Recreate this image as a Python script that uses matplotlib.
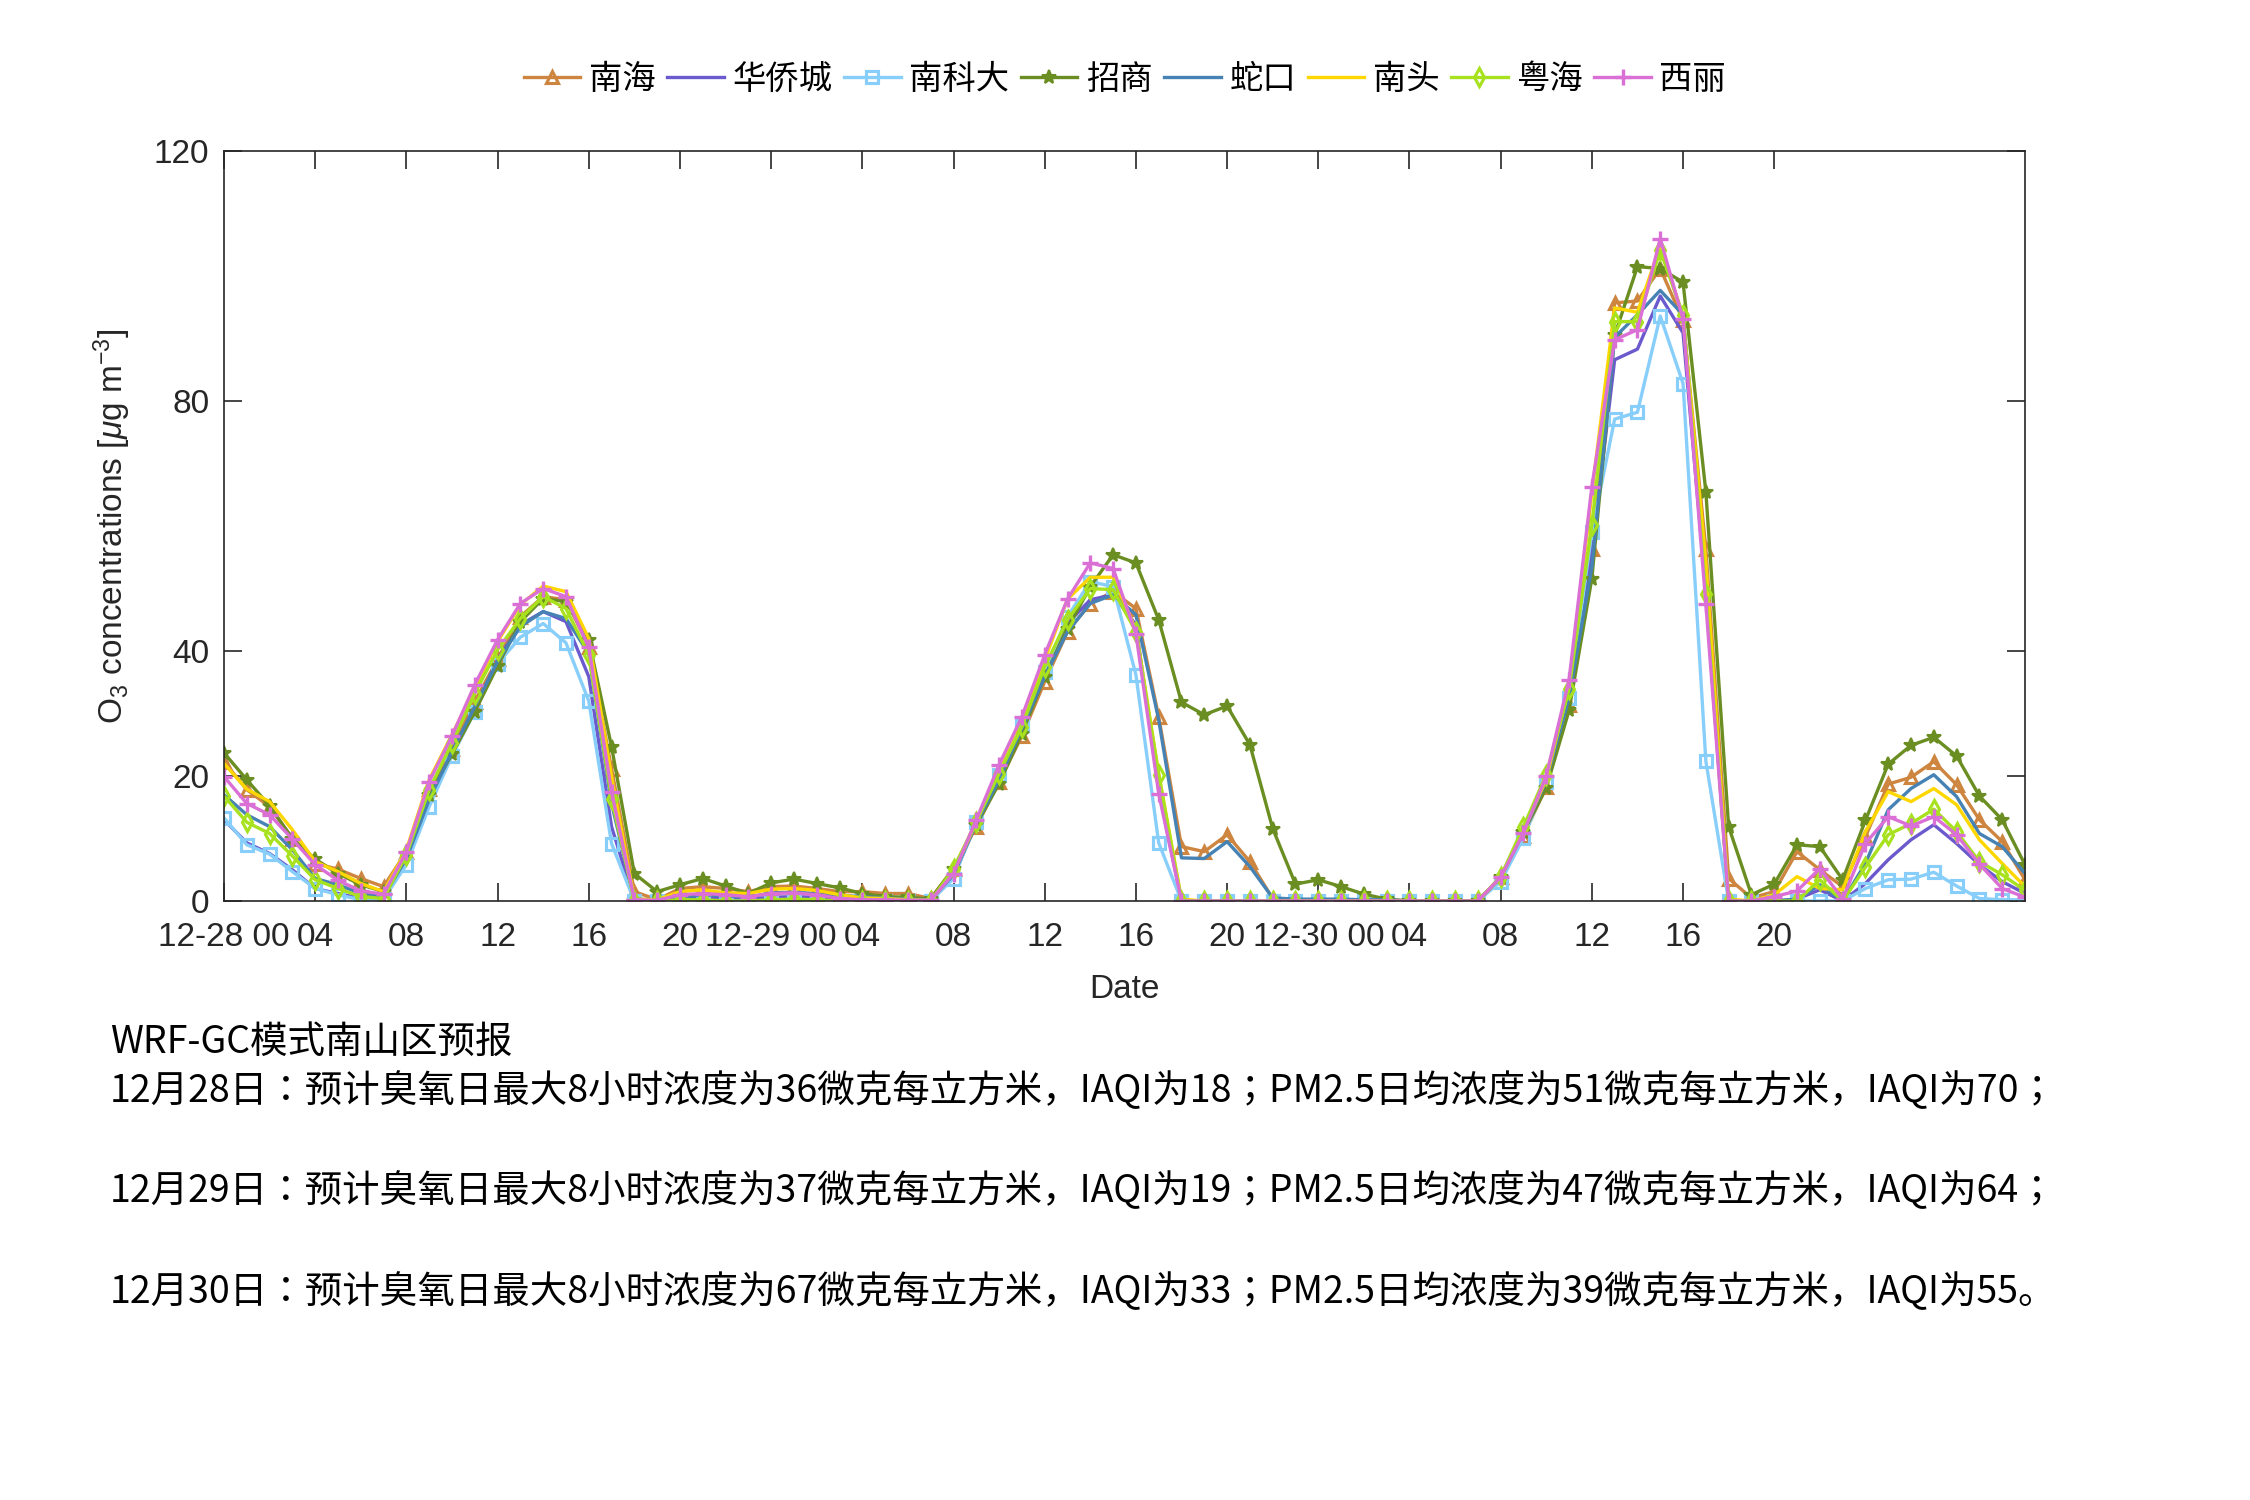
import matplotlib
matplotlib.use("Agg")
import matplotlib.pyplot as plt
import numpy as np

plt.rcParams['font.family'] = ['Liberation Sans', 'Noto Sans CJK SC', 'DejaVu Sans']
plt.rcParams['mathtext.fontset'] = 'custom'
plt.rcParams['mathtext.rm'] = 'Liberation Sans'
plt.rcParams['mathtext.it'] = 'Liberation Sans:italic'

# O3 hourly forecast, 12-28 00h -> 12-31 07h (80 hours)
hours = np.arange(80)

nanhai = [22.3, 17.8, 15.1, 10.0, 6.0, 5.1, 3.6, 2.3, 7.9, 17.9,
          24.4, 31.9, 38.7, 45.5, 48.7, 48.2, 40.7, 21.2, 1.5, 0.2,
          2.0, 2.3, 2.0, 1.5, 2.3, 2.4, 2.0, 1.5, 1.5, 1.2,
          1.2, 0.4, 5.2, 11.9, 19.1, 26.4, 35.1, 43.1, 47.6, 49.5,
          46.8, 29.5, 8.7, 7.9, 10.6, 6.3, 0.4, 0, 0, 0,
          0, 0, 0, 0, 0, 0, 3.8, 10.4, 18.3, 31.4,
          56.4, 95.7, 96.0, 101.2, 92.9, 56.4, 3.6, 0.5, 1.5, 7.9,
          5.0, 2.3, 10.3, 18.7, 19.8, 22.3, 18.6, 13.0, 9.5, 3.4]
huaqiaocheng = [13.0, 9.3, 7.6, 5.0, 2.0, 1.2, 0.4, 0.5, 6.2, 16.4,
                23.6, 30.8, 38.6, 44.2, 46.3, 44.7, 35.9, 11.9, 0, 0,
                0.3, 0.5, 0.4, 0.3, 0.6, 0.7, 0.6, 0.4, 0.3, 0.2,
                0.1, 0.1, 4.0, 12.4, 19.6, 27.3, 36.4, 44.4, 48.2, 49.0,
                44.2, 17.8, 0, 0, 0, 0, 0, 0, 0, 0,
                0, 0, 0, 0, 0, 0, 3.6, 10.8, 19.0, 32.8,
                55.6, 86.6, 88.3, 96.8, 90.9, 49.7, 0, 0, 0, 0.3,
                1.8, 0, 2.8, 6.6, 9.8, 12.2, 9.2, 5.8, 3.1, 1.2]
nankeda = [13.3, 9.0, 7.5, 4.7, 2.0, 1.0, 0.2, 0.3, 5.8, 15.1,
           23.2, 30.3, 38.0, 42.2, 44.4, 41.3, 32.0, 9.2, 0, 0,
           0, 0, 0, 0, 0, 0, 0, 0, 0, 0,
           0, 0, 3.6, 12.7, 20.2, 28.2, 36.7, 45.5, 51.1, 50.3,
           36.2, 9.3, 0, 0, 0, 0, 0, 0, 0, 0,
           0, 0, 0, 0, 0, 0, 3.1, 10.1, 19.0, 32.5,
           59.0, 77.1, 78.2, 93.6, 82.8, 22.4, 0, 0, 0, 0,
           0, 0, 2.0, 3.4, 3.5, 4.6, 2.4, 0.4, 0.2, 0.2]
zhaoshang = [23.7, 19.4, 15.2, 10.0, 6.7, 4.4, 2.6, 1.5, 7.6, 17.0,
             23.5, 30.3, 37.6, 44.7, 48.4, 47.9, 41.8, 24.7, 4.4, 1.5,
             2.6, 3.6, 2.4, 1.2, 2.9, 3.5, 2.8, 2.1, 1.2, 0.7,
             0.6, 0.3, 5.2, 12.2, 18.8, 26.8, 35.9, 43.6, 50.3, 55.4,
             54.1, 45.0, 31.8, 29.8, 31.2, 25.0, 11.6, 2.7, 3.4, 2.3,
             1.1, 0.3, 0, 0, 0, 0, 3.8, 11.0, 18.1, 30.5,
             51.6, 90.5, 101.5, 101.2, 99.0, 65.5, 11.9, 1.0, 2.7, 9.0,
             8.7, 3.4, 12.9, 21.9, 24.9, 26.2, 23.2, 16.8, 13.0, 5.8]
shekou = [17.0, 13.8, 11.9, 8.2, 3.6, 2.6, 1.2, 0.7, 6.8, 16.2,
          23.9, 31.1, 38.3, 43.9, 46.3, 45.2, 39.6, 15.6, 0.3, 0.2,
          0.5, 1.0, 0.8, 0.6, 1.3, 1.4, 1.2, 0.9, 0.7, 0.5,
          0.3, 0.2, 4.2, 12.4, 19.4, 27.6, 35.9, 43.1, 47.6, 49.0,
          45.8, 29.0, 6.9, 6.8, 9.5, 5.5, 0.5, 0.3, 0.3, 0.3,
          0.2, 0.2, 0, 0, 0, 0, 3.8, 11.0, 19.2, 32.5,
          53.4, 90.2, 93.8, 97.7, 93.8, 51.2, 0, 0, 0, 0.3,
          2.6, 0, 6.0, 14.6, 18.0, 20.2, 16.7, 10.8, 8.7, 4.4]
nantou = [22.0, 17.9, 15.9, 11.4, 6.3, 4.7, 2.8, 1.5, 8.2, 19.4,
          26.6, 34.0, 41.5, 47.4, 50.4, 49.5, 42.0, 19.9, 0.3, 0.2,
          1.5, 1.8, 1.3, 1.2, 1.9, 2.0, 1.7, 1.0, 0.5, 0.4,
          0.2, 0.1, 4.6, 12.6, 21.5, 29.2, 38.6, 48.3, 51.8, 51.8,
          43.4, 20.4, 0.3, 0, 0, 0, 0, 0, 0, 0,
          0, 0, 0, 0, 0, 0, 3.8, 11.2, 19.5, 34.3,
          65.2, 94.9, 94.2, 104.8, 93.5, 54.2, 0.3, 0, 1.0, 3.9,
          2.0, 1.8, 11.1, 17.5, 15.9, 18.0, 15.4, 9.8, 6.0, 2.3]
yuehai = [16.8, 12.6, 10.8, 7.2, 3.4, 2.0, 0.7, 0.4, 7.4, 17.8,
          25.3, 33.2, 40.2, 45.2, 48.7, 46.8, 39.4, 16.4, 0, 0,
          0.2, 0.2, 0, 0, 0.2, 0.3, 0.2, 0, 0, 0,
          0, 0, 5.2, 12.7, 20.4, 27.9, 37.5, 45.0, 50.0, 49.8,
          43.1, 20.2, 0, 0, 0, 0, 0, 0, 0, 0,
          0, 0, 0, 0, 0, 0, 3.9, 11.9, 20.2, 33.9,
          60.2, 92.7, 92.7, 104.1, 93.8, 49.2, 0, 0, 0, 0,
          3.4, 0, 5.4, 10.6, 12.4, 14.7, 11.1, 6.3, 4.2, 1.7]
xili = [19.9, 15.6, 13.8, 9.9, 5.8, 3.3, 1.6, 1.1, 7.9, 19.1,
        26.4, 34.6, 41.8, 47.6, 50.0, 48.7, 40.6, 17.5, 0.2, 0.1,
        1.0, 1.2, 1.0, 0.7, 1.2, 1.3, 1.0, 0.4, 0.2, 0.2,
        0.1, 0.1, 4.4, 13.0, 21.8, 29.5, 39.4, 48.3, 54.1, 53.2,
        42.8, 17.2, 0, 0, 0, 0, 0, 0, 0, 0,
        0, 0, 0, 0, 0, 0, 3.8, 10.9, 20.0, 35.4,
        66.3, 89.8, 91.4, 106.0, 93.1, 47.5, 0, 0, 0.7, 1.6,
        5.2, 0.3, 9.2, 13.5, 12.0, 13.5, 10.6, 5.9, 2.0, 0.6]

tick_pos = list(range(0, 69, 4))
tick_labels = ['12-28 00', '04', '08', '12', '16', '20',
               '12-29 00', '04', '08', '12', '16', '20',
               '12-30 00', '04', '08', '12', '16', '20']

forecast_lines = [
    "WRF-GC模式南山区预报",
    "12月28日：预计臭氧日最大8小时浓度为36微克每立方米，IAQI为18；PM2.5日均浓度为51微克每立方米，IAQI为70；",
    "12月29日：预计臭氧日最大8小时浓度为37微克每立方米，IAQI为19；PM2.5日均浓度为47微克每立方米，IAQI为64；",
    "12月30日：预计臭氧日最大8小时浓度为67微克每立方米，IAQI为33；PM2.5日均浓度为39微克每立方米，IAQI为55。",
]

series = [
    ("南海", nanhai, '#CD853F', '^'),
    ("华侨城", huaqiaocheng, '#6A5ACD', None),
    ("南科大", nankeda, '#87CEFA', 's'),
    ("招商", zhaoshang, '#6B8E23', '*'),
    ("蛇口", shekou, '#4682B4', None),
    ("南头", nantou, '#FFD700', None),
    ("粤海", yuehai, '#A8E21E', 'd'),
    ("西丽", xili, '#DA70D6', '+'),
]

fig = plt.figure(figsize=(15, 10), dpi=150)
ax = fig.add_axes([224 / 2250, 599 / 1500, 1801 / 2250, 750 / 1500])

for name, vals, col, mk in series:
    kw = dict(color=col, lw=1.6, label=name)
    if mk == '*':
        kw.update(marker='*', ms=7, mfc=col, mec=col)
    elif mk == '+':
        kw.update(marker='+', ms=8, mew=1.6)
    elif mk is not None:
        kw.update(marker=mk, ms=6, mfc='none', mec=col, mew=1.5)
    ax.plot(hours, vals, **kw)

ax.set_xlim(0, 79)
ax.set_ylim(0, 120)
ax.set_yticks([0, 20, 40, 80, 120])
ax.set_xticks(tick_pos)
ax.set_xticklabels(tick_labels)
ax.tick_params(direction='in', length=8.5, width=0.8, top=True, right=True,
               labelsize=16, colors='#262626')
ax.tick_params(axis='x', pad=10)
ax.tick_params(axis='y', pad=7)
for sp in ax.spines.values():
    sp.set_color('#262626')
    sp.set_linewidth(0.8)

ax.set_xlabel("Date", fontsize=16, color='#262626', labelpad=10)
ax.set_ylabel(r"O$_3$ concentrations [$\mu$g m$^{-3}$]", fontsize=16,
              color='#262626', labelpad=10)

fig.legend(loc='center', bbox_to_anchor=(0.5, 1 - 80 / 1500), ncol=8,
           frameon=False, fontsize=16, handlelength=1.7, handletextpad=0.25,
           columnspacing=0.35)

ys = [1042, 1092, 1192, 1293]
for txt, y in zip(forecast_lines, ys):
    fig.text(110 / 2250, 1 - y / 1500, txt, fontsize=18, va='center', ha='left',
             family=['Noto Sans CJK JP'])

fig.savefig("out.png", dpi=150)
